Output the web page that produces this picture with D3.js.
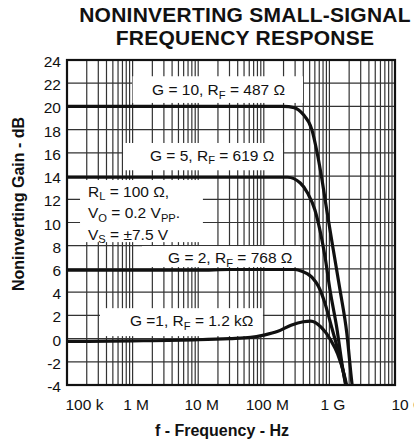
<!DOCTYPE html>
<html>
<head>
<meta charset="utf-8">
<script src="https://cdn.jsdelivr.net/npm/d3@7/dist/d3.min.js"></script>
<style>
  html, body { margin: 0; padding: 0; background: #fff; }
  svg { display: block; font-family: "Liberation Sans", Arial, Helvetica, sans-serif; }
</style>
</head>
<body>
<svg id="chart" width="414" height="442"></svg>
<script>
// Axis ticks and labels
const freqTicks = [1e5, 1e6, 1e7, 1e8, 1e9, 1e10];
const freqTickLabels = ["100 k", "1 M", "10 M", "100 M", "1 G", "10 G"];
const gainTicks = [24, 22, 20, 18, 16, 14, 12, 10, 8, 6, 4, 2, 0, -2, -4];

// Gain vs frequency, one pair of arrays per closed-loop gain setting
const freqG10 = [1e5, 1e6, 1e7, 1e8, 2e8, 2.9e8, 3.4e8, 4e8, 5.4e8, 6.4e8, 7.6e8, 9.1e8, 1.15e9, 1.45e9, 1.84e9, 2.2e9, 2.4e9];
const gainG10 = [20, 20, 20, 20, 20, 19.9, 19.7, 19.3, 18.0, 16.2, 13.9, 11.1, 7.6, 4.2, 0.5, -3.8, -5.5];

const freqG5 = [1e5, 1e6, 1e7, 1e8, 2.3e8, 3.6e8, 4.7e8, 6e8, 7.2e8, 8.6e8, 1.02e9, 1.29e9, 1.61e9, 2e9];
const gainG5 = [13.9, 13.9, 13.9, 13.9, 13.9, 13.4, 12.5, 11.1, 9.3, 7.0, 4.2, 1.0, -2.7, -5.5];

const freqG2 = [1e5, 1e6, 1e7, 3e7, 1e8, 3e8, 3.8e8, 5.4e8, 6.8e8, 8.6e8, 1.08e9, 1.35e9, 1.73e9, 1.9e9];
const gainG2 = [5.9, 5.9, 5.9, 5.95, 5.95, 5.95, 5.8, 5.3, 4.5, 3.0, 1.0, -1.0, -3.6, -5.0];

const freqG1 = [1e5, 1e6, 1e7, 3e7, 6.3e7, 1e8, 1.6e8, 2.6e8, 4e8, 5.2e8, 7.4e8, 1.05e9, 1.33e9, 1.66e9, 2e9];
const gainG1 = [-0.25, -0.2, -0.1, 0.0, 0.1, 0.3, 0.6, 1.15, 1.45, 1.5, 1.0, -0.15, -1.3, -3.0, -5.0];

const series = [
  { f: freqG10, g: gainG10 },
  { f: freqG5, g: gainG5 },
  { f: freqG2, g: gainG2 },
  { f: freqG1, g: gainG1 }
];

// Curve annotations: text anchor and white backing box in data units
const notes = [
  { parts: [["G = 10, R"], ["F", "sub"], [" = 487 \u03A9"]], f: 1.98e6, db: 20.95, box: [1e6, 3.96e8, 22.6, 20.3] },
  { parts: [["G = 5, R"], ["F", "sub"], [" = 619 \u03A9"]], f: 1.84e6, db: 15.3, box: [7.15e5, 1.96e8, 16.85, 14.5] },
  { parts: [["G = 2, R"], ["F", "sub"], [" = 768 \u03A9"]], f: 3.47e6, db: 6.5, box: [1.39e6, 3.56e8, 7.97, 6.16] },
  { parts: [["G =1, R"], ["F", "sub"], [" = 1.2 k\u03A9"]], f: 9.1e5, db: 1.08, box: [3.18e5, 9.7e7, 2.62, 0.21] }
];

const conditions = [
  [["R"], ["L", "sub"], [" = 100 \u03A9,"]],
  [["V"], ["O", "sub"], [" = 0.2 V"], ["PP", "sub"], ["."]],
  [["V"], ["S", "sub"], [" = \u00B17.5 V"]]
];
const conditionsAnchor = { f: 2.09e5, db: 12.2 };
const conditionsBox = [1.58e5, 1.18e7, 13.66, 8.31];

const plot = { left: 67, right: 395, top: 60, bottom: 385 };

const svg = d3.select("#chart");

const x = d3.scaleLog().domain([1e5, 1e10]).range([plot.left, plot.right]);
const y = d3.scaleLinear().domain([-4, 24]).range([plot.bottom, plot.top]);

// Log-decade grid: every 1..9 multiple inside each decade
const vGrid = [];
for (let d = 1e5; d < 1e10; d *= 10) {
  for (let m = 2; m <= 9; m++) vGrid.push(d * m);
}
freqTicks.slice(1, -1).forEach(v => vGrid.push(v));

const grid = svg.append("g").attr("stroke", "#333").attr("stroke-width", 1.2);
grid.selectAll("line.v").data(vGrid).join("line")
  .attr("class", "v")
  .attr("x1", d => x(d)).attr("x2", d => x(d))
  .attr("y1", plot.top).attr("y2", plot.bottom);
grid.selectAll("line.h").data(gainTicks.slice(1, -1)).join("line")
  .attr("class", "h")
  .attr("x1", plot.left).attr("x2", plot.right)
  .attr("y1", d => y(d)).attr("y2", d => y(d));

// White boxes behind the annotations
const boxes = notes.map(n => n.box).concat([conditionsBox]);
svg.append("g").selectAll("rect").data(boxes).join("rect")
  .attr("x", d => x(d[0]))
  .attr("y", d => y(d[2]))
  .attr("width", d => x(d[1]) - x(d[0]))
  .attr("height", d => y(d[3]) - y(d[2]))
  .attr("fill", "#fff");

// Response curves, clipped to the plot frame
svg.append("clipPath").attr("id", "plotClip")
  .append("rect")
  .attr("x", plot.left).attr("y", plot.top)
  .attr("width", plot.right - plot.left).attr("height", plot.bottom - plot.top);

const line = d3.line()
  .x(d => x(d[0]))
  .y(d => y(d[1]))
  .curve(d3.curveMonotoneX);

svg.append("g").attr("clip-path", "url(#plotClip)")
  .selectAll("path").data(series).join("path")
  .attr("d", s => line(s.f.map((f, i) => [f, s.g[i]])))
  .attr("fill", "none")
  .attr("stroke", "#111")
  .attr("stroke-width", 3.2)
  .attr("stroke-linejoin", "round");

// Text with subscripts
function richText(sel, parts, size) {
  parts.forEach((p, i) => {
    const t = sel.append("tspan").text(p[0]);
    if (p[1] === "sub") {
      t.attr("font-size", size * 0.72).attr("dy", 3.5);
    } else {
      t.attr("font-size", size);
      if (i > 0 && parts[i - 1][1] === "sub") t.attr("dy", -3.5);
    }
  });
}

const noteSize = 15.5;
notes.forEach(n => {
  const t = svg.append("text")
    .attr("x", x(n.f)).attr("y", y(n.db))
    .attr("fill", "#111");
  richText(t, n.parts, noteSize);
});

conditions.forEach((c, i) => {
  const t = svg.append("text")
    .attr("x", x(conditionsAnchor.f))
    .attr("y", y(conditionsAnchor.db) + i * 21.5)
    .attr("fill", "#111");
  richText(t, c, noteSize);
});

// Plot frame
svg.append("rect")
  .attr("x", plot.left).attr("y", plot.top)
  .attr("width", plot.right - plot.left).attr("height", plot.bottom - plot.top)
  .attr("fill", "none").attr("stroke", "#111").attr("stroke-width", 2.2);

// Axes
const xAxis = d3.axisBottom(x)
  .tickValues(freqTicks)
  .tickFormat((d, i) => freqTickLabels[i])
  .tickSize(0)
  .tickPadding(14);
const xg = svg.append("g").attr("transform", `translate(0,${plot.bottom})`).call(xAxis);
xg.select(".domain").remove();
xg.selectAll("text")
  .attr("font-size", 15.5).attr("font-family", "Liberation Sans, Arial, sans-serif").attr("fill", "#111")
  .attr("text-anchor", (d, i) => (i === 0 || i === freqTicks.length - 1) ? "start" : "middle")
  .attr("dx", (d, i) => i === 0 ? -2 : (i === freqTicks.length - 1 ? -4 : 3));

const yAxis = d3.axisLeft(y)
  .tickValues(gainTicks)
  .tickFormat(d => String(d))
  .tickSize(0)
  .tickPadding(6);
const yg = svg.append("g").attr("transform", `translate(${plot.left},0)`).call(yAxis);
yg.select(".domain").remove();
yg.selectAll("text")
  .attr("font-size", 15.5).attr("font-family", "Liberation Sans, Arial, sans-serif").attr("fill", "#111")
  .attr("dy", "0.42em");

// Titles
const title = svg.append("text")
  .attr("text-anchor", "middle")
  .attr("font-weight", "bold").attr("font-size", 21).attr("letter-spacing", 0.25).attr("fill", "#111");
title.append("tspan").attr("x", 245).attr("y", 22).text("NONINVERTING SMALL-SIGNAL");
title.append("tspan").attr("x", 245).attr("y", 44.5).text("FREQUENCY RESPONSE");

svg.append("text")
  .attr("x", 222).attr("y", 436)
  .attr("text-anchor", "middle")
  .attr("font-weight", "bold").attr("font-size", 16).attr("fill", "#111")
  .text("f - Frequency - Hz");

svg.append("text")
  .attr("transform", "translate(24,204) rotate(-90)")
  .attr("text-anchor", "middle")
  .attr("font-weight", "bold").attr("font-size", 16).attr("fill", "#111")
  .text("Noninverting Gain - dB");
</script>
</body>
</html>
